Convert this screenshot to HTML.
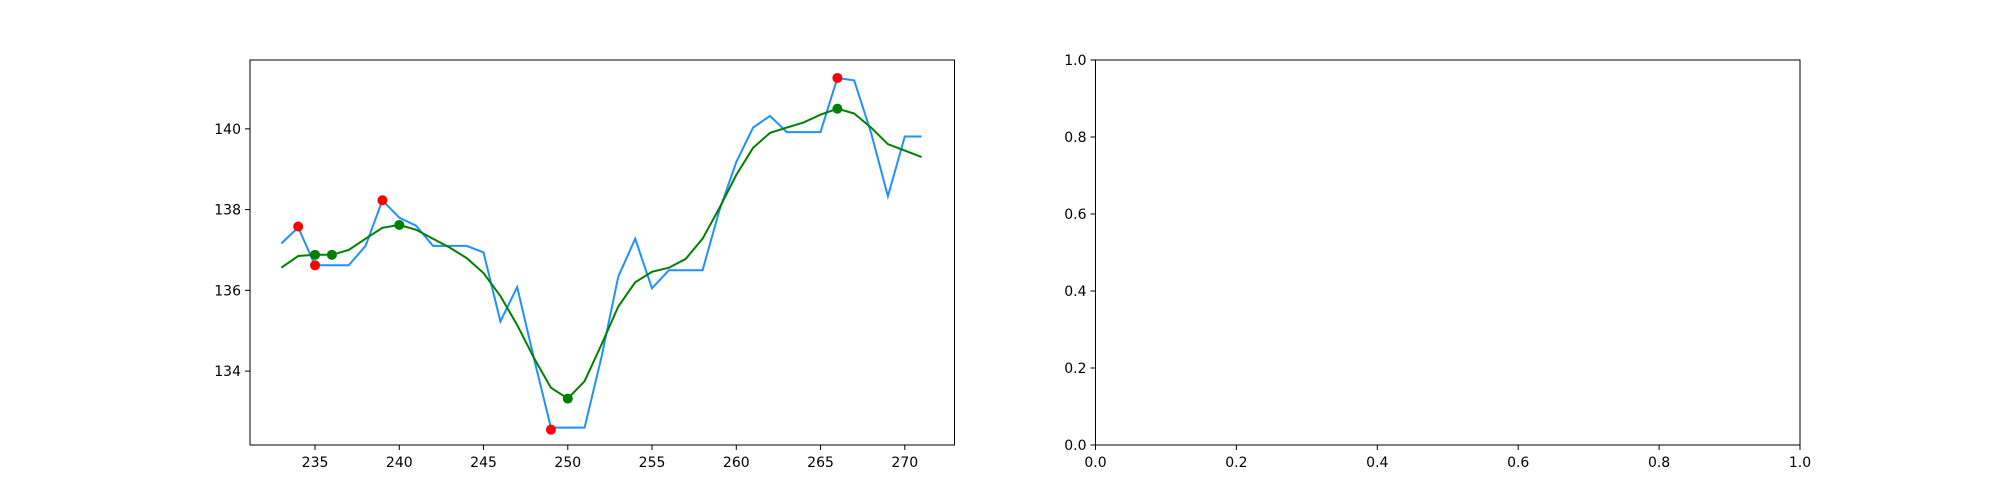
<!DOCTYPE html>
<html><head><meta charset="utf-8"><style>
body{margin:0;background:#fff}
svg{display:block;font-family:"DejaVu Sans","Liberation Sans",sans-serif}
</style></head><body>
<svg id="fig" width="2000" height="500" xmlns="http://www.w3.org/2000/svg">
<rect width="2000" height="500" fill="#fff"/>
<g id="left"></g>
<g id="right"></g>
</svg>
<script>
const xStart = 233;
const priceValues = [137.16,137.56,136.62,136.62,136.62,137.1,138.23,137.8,137.6,137.1,137.1,137.1,136.94,135.23,136.08,134.3,132.6,132.6,132.6,134.35,136.34,137.28,136.05,136.5,136.5,136.5,137.98,139.18,140.03,140.32,139.92,139.92,139.92,141.26,141.2,139.9,138.33,139.81,139.81];
const smoothValues = [136.56,136.85,136.88,136.88,137.0,137.28,137.55,137.62,137.5,137.28,137.06,136.8,136.43,135.86,135.14,134.32,133.59,133.32,133.75,134.66,135.6,136.2,136.46,136.56,136.78,137.28,138.04,138.86,139.53,139.9,140.03,140.16,140.35,140.5,140.38,140.03,139.62,139.46,139.3];
const redX = [234,235,239,249,266];
const redY = [137.58,136.62,138.23,132.55,141.26];
const greenX = [235,236,240,250,266];
const greenY = [136.88,136.88,137.62,133.32,140.5];
const leftXTicks = [235,240,245,250,255,260,265,270];
const leftYTicks = [134,136,138,140];
const rightTicks = [0,0.2,0.4,0.6,0.8,1.0];

const NS="http://www.w3.org/2000/svg";
function mk(parent,tag,attrs){const e=document.createElementNS(NS,tag);for(const k in attrs)e.setAttribute(k,attrs[k]);parent.appendChild(e);return e;}

const L={x0:250,x1:954.5,y0:60,y1:445,xmin:231.14,xmax:272.95,ymin:132.17,ymax:141.705};
const sx=v=>L.x0+(v-L.xmin)/(L.xmax-L.xmin)*(L.x1-L.x0);
const sy=v=>L.y1-(v-L.ymin)/(L.ymax-L.ymin)*(L.y1-L.y0);
const lg=document.getElementById('left');

function axesFrame(g,x0,y0,x1,y1){
  const r=mk(g,'rect',{x:x0,y:y0,width:x1-x0,height:y1-y0,fill:'none',stroke:'#000','stroke-width':1});
  
  
}
function xtick(g,px,y,label){
  const t=mk(g,'line',{x1:px,x2:px,y1:y,y2:y+5,stroke:'#000'});
  
  
  const tx=mk(g,'text',{x:px,y:y+22,'font-size':14,'text-anchor':'middle',fill:'#000'});
  tx.textContent=label;
  
  
}
function ytick(g,x,py,label){
  const t=mk(g,'line',{x1:x-5,x2:x,y1:py,y2:py,stroke:'#000'});
  
  
  const tx=mk(g,'text',{x:x-9,y:py+5,'font-size':14,'text-anchor':'end',fill:'#000'});
  tx.textContent=label;
  
  
}

const bp=priceValues.map((v,i)=>sx(xStart+i).toFixed(1)+','+sy(v).toFixed(1)).join(' ');
const bl=mk(lg,'polyline',{points:bp,fill:'none',stroke:'#1e90ff','stroke-width':2});


const gp=smoothValues.map((v,i)=>sx(xStart+i).toFixed(1)+','+sy(v).toFixed(1)).join(' ');
const gl=mk(lg,'polyline',{points:gp,fill:'none',stroke:'#008000','stroke-width':2});


redX.forEach((x,i)=>{
  const c=mk(lg,'circle',{cx:sx(x),cy:sy(redY[i]),r:5,fill:'#ff0000'});
  
  
});
greenX.forEach((x,i)=>{
  const c=mk(lg,'circle',{cx:sx(x),cy:sy(greenY[i]),r:5,fill:'#008000'});
  
  
});
axesFrame(lg,L.x0,L.y0,L.x1,L.y1);
leftXTicks.forEach(v=>xtick(lg,sx(v),L.y1,String(v)));
leftYTicks.forEach(v=>ytick(lg,L.x0,sy(v),String(v)));

const R={x0:1095.5,x1:1800,y0:60,y1:445};
const rg=document.getElementById('right');
axesFrame(rg,R.x0,R.y0,R.x1,R.y1);
rightTicks.forEach(v=>{
  xtick(rg,R.x0+v*(R.x1-R.x0),R.y1,v.toFixed(1));
  ytick(rg,R.x0,R.y1-v*(R.y1-R.y0),v.toFixed(1));
});
</script>
</body></html>
